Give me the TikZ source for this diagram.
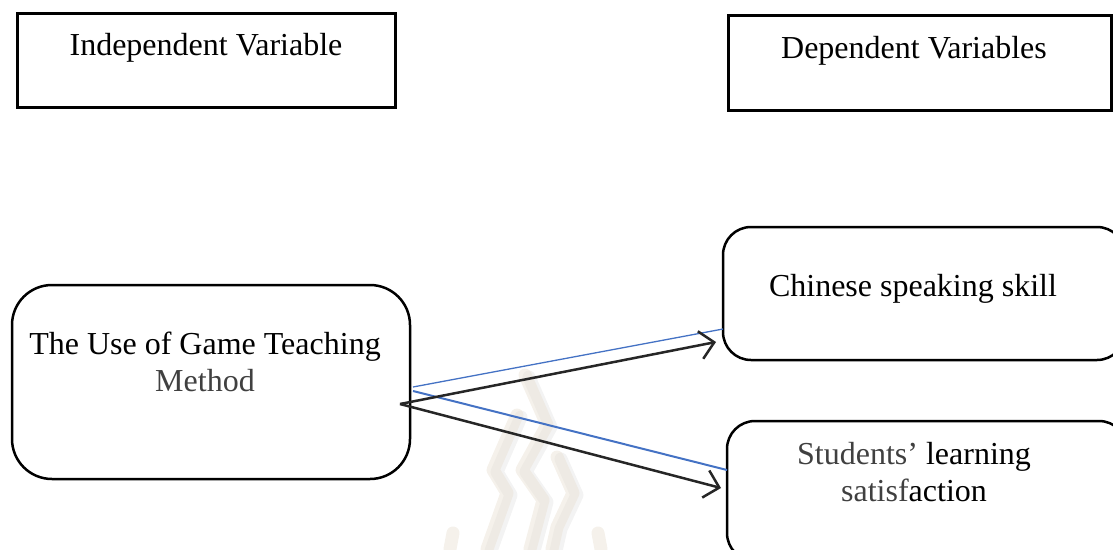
\documentclass[tikz,border=0pt]{standalone}
\usepackage{fontspec}
\setmainfont{Liberation Serif}
\usetikzlibrary{arrows.meta}
\definecolor{lineblue}{HTML}{4472C4}
\definecolor{txtgrey}{HTML}{404040}
\definecolor{wmark}{RGB}{232,224,210}
\definecolor{wshadow}{RGB}{228,228,228}
\begin{document}
\begin{tikzpicture}[x=1pt,y=-1pt,
  lbl/.style={inner sep=0pt, font=\fontsize{32}{38}\selectfont, anchor=base},
  sqbox/.style={draw, line width=3pt, inner sep=0pt},
  rbox/.style={draw, line width=2.5pt, rounded corners=#1, inner sep=0pt},
  rbox/.default=30pt,
  link/.style={line width=2.5pt, black!85, -{Straight Barb[length=14pt,width=28pt,line width=2.5pt]}},
  bluelink/.style={lineblue, line width=#1},
  wm/.style={line width=13pt, line cap=round, line join=round, opacity=0.45}
]
\useasboundingbox (0,0) rectangle (1113,549);

% faint watermark
\begin{scope}[wm]
\draw[wshadow, xshift=4pt, yshift=-2pt] (525,375) -- (547,425) -- (522,470) -- (543,500) -- (530,549);
\draw[wshadow, xshift=4pt, yshift=-2pt] (517,415) -- (493,470) -- (507,493) -- (487,549);
\draw[wshadow, xshift=4pt, yshift=-2pt] (557,457) -- (573,493) -- (557,527) -- (552,549);
\draw[wmark] (525,375) -- (547,425) -- (522,470) -- (543,500) -- (530,549);
\draw[wmark] (517,415) -- (493,470) -- (507,493) -- (487,549);
\draw[wmark] (557,457) -- (573,493) -- (557,527) -- (552,549);
\draw[wmark] (453,533) -- (450,549);
\draw[wmark] (598,533) -- (601,549);
\end{scope}

% top boxes
\node[sqbox, minimum width=378pt, minimum height=94pt] (indep) at (206,60) {};
\node[lbl] (indepT) at (206,55) {Independent Variable};
\node[sqbox, minimum width=383pt, minimum height=95pt] (dep) at (919.5,62.5) {};
\node[lbl] (depT) at (914,58) {Dependent Variables};

% rounded boxes
\node[rbox=40pt, minimum width=398pt, minimum height=194pt] (game) at (211,382) {};
\node[lbl] (gameT1) at (205,354) {The Use of Game Teaching};
\node[lbl, text=txtgrey] (gameT2) at (205,391) {Method};

\node[rbox=28pt, minimum width=402pt, minimum height=133pt] (chin) at (924,293.5) {};
\node[lbl] (chinT) at (913,296) {Chinese speaking skill};

\node[rbox=28pt, minimum width=400pt, minimum height=140pt] (stud) at (927,491) {};
\node[lbl] (studT1) at (914,464) {\textcolor{txtgrey}{Students’} learning};
\node[lbl] (studT2) at (914,501) {\textcolor{txtgrey}{satisf}action};

% connector points
\coordinate (src) at (400,404);
\coordinate (bsrc1) at (413,387);
\coordinate (bsrc2) at (413,391);
\coordinate (chinIn) at (716,342);
\coordinate (studIn) at (721,488);
\coordinate (chinB) at (723,329);
\coordinate (studB) at (727,470);

% blue lines
\draw[bluelink=1.3pt] (bsrc1) -- (chinB);
\draw[bluelink=2pt] (bsrc2) -- (studB);

% black arrows
\draw[link] (src) -- (chinIn);
\draw[link] (src) -- (studIn);
\end{tikzpicture}
\end{document}
